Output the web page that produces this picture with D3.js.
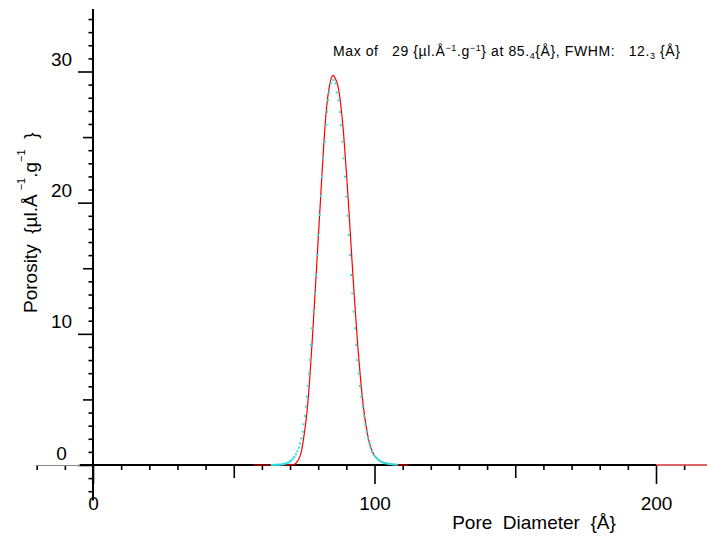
<!DOCTYPE html>
<html><head><meta charset="utf-8">
<script src="https://cdn.jsdelivr.net/npm/d3@7/dist/d3.min.js"></script>
<style>
body{margin:0;background:#fff}
svg{display:block}
text{font-family:"Liberation Sans",Arial,Helvetica,sans-serif;white-space:pre;fill:#000}
</style>
</head><body>
<svg id="chart" width="707" height="538"></svg>
<script>
// ---- data ----
const redX = [57,58,59,60,61,62,63,64,65,66,67,68,69,70,71,72,73,74,75,76,77,78,79,80,81,82,83,84,85,85.4,86,87,88,89,90,91,92,93,94,95,96,97,98,99,100,101,102,103,104,105,106,107,108,109,110,111,112];
const redY = [0,0,0,0,0,0,0,0,0,0,0,0,0,0.01,0.02,0.12,0.4,1.0,2.3,4.0,6.6,9.9,13.5,17.2,20.9,24.5,27.3,28.9,29.65,29.7,29.5,28.9,27.5,25.3,22.4,19.1,15.6,12.3,9.25,6.65,4.55,2.99,1.85,1.15,0.72,0.47,0.31,0.2,0.14,0.09,0.05,0.03,0.01,0,0,0,0];
const redTailX = [200,220];
const redTailY = [0,0];

const cyanX = [63.5,64,64.5,65,65.5,66,66.5,67,67.5,68,68.5,69,69.5,70,70.3,70.9,71.5,72.1,72.6,73.1,73.5,74,74.5,74.8,75.3,75.7,76,76.4,76.7,77.1,77.4,77.8,78.3,78.75,79.2,79.7,80,80.5,81,81.35,81.8,82.3,82.8,83.2,83.5,83.9,84.5,85.4,86.2,86.6,87.2,87.7,88.1,88.6,89,89.5,90,90.5,90.8,91.3,91.65,92.1,92.6,93.1,93.5,93.9,94.4,94.85,95.3,95.8,96.3,96.7,97.2,97.7,98.15,98.6,99.1,99.8,100.3,100.8,101.4,102,102.5,103.1,103.7,104.3,104.9,105.5,106.1,106.7,107.3,107.9];
const cyanY = [0,0.01,0.01,0.02,0.02,0.03,0.03,0.04,0.06,0.08,0.11,0.15,0.2,0.27,0.33,0.46,0.61,0.81,1.04,1.32,1.65,2.03,2.54,3.1,3.74,4.45,5.21,6.02,6.99,8.0,9.15,10.42,11.69,13.09,14.48,16.0,17.53,19.06,20.5,21.98,23.38,24.65,25.92,26.93,27.8,28.4,29.1,29.35,29.1,28.4,27.8,26.9,25.9,24.65,23.38,21.98,20.45,19.0,17.53,16.0,14.48,13.09,11.69,10.42,9.15,8.0,6.99,6.02,5.21,4.45,3.74,3.1,2.54,2.03,1.65,1.32,1.04,0.76,0.62,0.51,0.4,0.3,0.24,0.18,0.14,0.11,0.09,0.08,0.06,0.05,0.04,0.03];

const xTickLabels = [0,100,200];
const xMidTicks = [50,150];
const xMinorTicks = [-20,-10,10,20,30,40,60,70,80,90,110,120,130,140,160,170,180,190,210];
const yTickLabels = [0,10,20,30];
const yMidTicks = [5,15,25];
const yMinorTicks = d3.range(-2,35).filter(v => v % 5 !== 0);

// ---- layout ----
const svg = d3.select("#chart");
const x = d3.scaleLinear().domain([0,200]).range([93,656]);
const y = d3.scaleLinear().domain([0,30]).range([465,71.5]);
const y0 = y(0), xAxisX = x(0);

function xAxis(vals, size, fmt){
  const g = svg.append("g").attr("transform",`translate(0,${y0})`)
    .call(d3.axisBottom(x).tickValues(vals).tickSize(size).tickFormat(fmt||""));
  g.select(".domain").remove();
  g.selectAll(".tick line").attr("stroke","#000").attr("stroke-width",1.6);
  return g;
}
xAxis(xMinorTicks,5);
xAxis(xMidTicks,13);
const gx = xAxis(xTickLabels,19,d3.format("d"));
gx.selectAll(".tick text").attr("y",45).attr("dy",0)
  .style("font-size","19px").attr("font-family",null);

function yAxis(vals, size, fmt){
  const g = svg.append("g").attr("transform",`translate(${xAxisX},0)`)
    .call(d3.axisLeft(y).tickValues(vals).tickSize(size).tickFormat(fmt||""));
  g.select(".domain").remove();
  g.selectAll(".tick line").attr("stroke","#000").attr("stroke-width",1.6);
  return g;
}
yAxis(yMinorTicks,4.5);
yAxis(yMidTicks,10);
const gy = yAxis(yTickLabels,15,d3.format("d"));
gy.selectAll(".tick text").attr("x",-31.5).attr("dy",-6).attr("text-anchor","middle")
  .style("font-size","19px").attr("font-family",null);

// axis lines
svg.append("line").attr("x1",x(-20)).attr("x2",x(-4.6)).attr("y1",y0+0.5).attr("y2",y0+0.5)
  .attr("stroke","#888").attr("stroke-width",1);
svg.append("line").attr("x1",x(-4.6)).attr("x2",x(200)).attr("y1",y0).attr("y2",y0)
  .attr("stroke","#000").attr("stroke-width",2);
svg.append("line").attr("x1",xAxisX).attr("x2",xAxisX).attr("y1",y(34.76)).attr("y2",y(-2.7))
  .attr("stroke","#000").attr("stroke-width",2);

// curves
const line = d3.line().x(d=>x(d[0])).y(d=>y(d[1])).curve(d3.curveMonotoneX);
svg.append("path").datum(redX.map((v,i)=>[v,redY[i]])).attr("d",line)
  .attr("fill","none").attr("stroke","#ff0000").attr("stroke-width",1.2);
svg.append("path").datum(redTailX.map((v,i)=>[v,redTailY[i]])).attr("d",d3.line().x(d=>x(d[0])).y(d=>y(d[1])))
  .attr("fill","none").attr("stroke","#d23030").attr("stroke-width",1.3);
svg.append("g").selectAll("rect").data(cyanX.map((v,i)=>[v,cyanY[i]])).join("rect")
  .attr("x",d=>x(d[0])-1).attr("y",d=>y(d[1])-1).attr("width",2).attr("height",2)
  .attr("fill","#22e4e4");

// axis titles
svg.append("text").attr("x",534).attr("y",529).attr("text-anchor","middle")
  .style("font-size","19px").text("Pore  Diameter  {Å}");

const yt = svg.append("text").attr("transform","translate(37,313) rotate(-90)").style("font-size","19px");
yt.append("tspan").text("Porosity  {µl.Å");
yt.append("tspan").attr("dx",4).attr("dy",-12).style("font-size","11px").text("−1");
yt.append("tspan").attr("dy",12).text(".g");
yt.append("tspan").attr("dy",-12).style("font-size","11px").text("−1");
yt.append("tspan").attr("dy",12).text("  }");

// annotation
const an = svg.append("text").attr("x",333).attr("y",56).style("font-size","14px").style("letter-spacing","0.6px");
an.append("tspan").text("Max of   29 {µl.Å");
an.append("tspan").attr("dy",-5).style("font-size","9px").text("−1");
an.append("tspan").attr("dy",5).text(".g");
an.append("tspan").attr("dy",-5).style("font-size","9px").text("−1");
an.append("tspan").attr("dy",5).text("} at 85.");
an.append("tspan").attr("dy",3).style("font-size","9px").text("4");
an.append("tspan").attr("dy",-3).text("{Å}, FWHM:   12.");
an.append("tspan").attr("dy",3).style("font-size","9px").text("3");
an.append("tspan").attr("dy",-3).text(" {Å}");
</script>
</body></html>
